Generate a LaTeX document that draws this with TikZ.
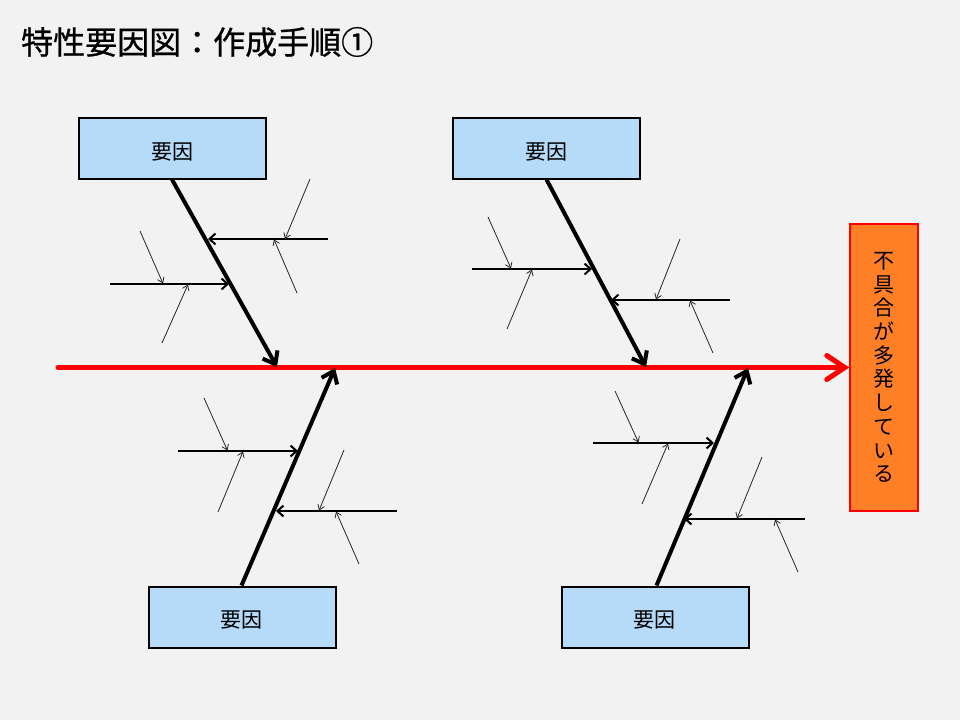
\documentclass[tikz,border=0pt]{standalone}
\usepackage{fontspec}
\setmainfont{Noto Sans CJK JP}
\newfontfamily\titlefont[FakeBold=0.8]{Noto Sans CJK JP}
\usetikzlibrary{arrows.meta}
\definecolor{bgc}{RGB}{242,242,242}
\definecolor{boxblue}{RGB}{181,219,249}
\definecolor{effectorange}{RGB}{255,127,39}
\tikzset{
  causebox/.style={draw=black, line width=2pt, fill=boxblue, minimum width=187pt, minimum height=61pt, inner sep=0pt},
  causetext/.style={inner sep=0pt, font=\fontsize{21}{24}\selectfont},
  effectbox/.style={draw=red, line width=1.5pt, fill=effectorange, minimum width=68pt, minimum height=287pt, inner sep=0pt, align=center, font=\fontsize{21}{23.7}\selectfont},
  spine/.style={draw=red, line width=5pt, line cap=round, -{Straight Barb[length=18pt,width=24pt,line cap=round]}},
  bigbone/.style={draw=black, line width=4pt, -{Straight Barb[length=11pt,width=17pt]}},
  midbone/.style={draw=black, line width=2pt, -{Straight Barb[length=6pt,width=11pt]}},
  smallbone/.style={draw=black!85, line width=0.8pt, -{Straight Barb[length=5pt,width=7pt]}},
}
\begin{document}
\begin{tikzpicture}[x=1pt,y=-1pt]
\fill[bgc] (0,0) rectangle (960,720);
\useasboundingbox (0,0) rectangle (960,720);

\node[anchor=west, inner sep=0pt, font=\fontsize{32}{36}\selectfont\titlefont] (title) at (21,42) {特性要因図：作成手順①};

% boxes
\node[causebox] (c1) at (172,148) {};
\node[causebox] (c2) at (546.5,148) {};
\node[causebox] (c3) at (242,617) {};
\node[causebox] (c4) at (655,617) {};
\node[causetext] (c1t) at (172,151.5) {要因};
\node[causetext] (c2t) at (546.5,151.5) {要因};
\node[causetext] (c3t) at (241,619.5) {要因};
\node[causetext] (c4t) at (654,619.5) {要因};
\node[effectbox] (eff) at (884,367.5) {不\\具\\合\\が\\多\\発\\し\\て\\い\\る};

% spine
\coordinate (s0) at (58,367.5);
\draw[spine] (s0) -- (s0 -| eff.west);

% big bones
\coordinate (b1) at (277,367);
\coordinate (b2) at (646,367);
\coordinate (b3) at (335,368);
\coordinate (b4) at (748,368);
\draw[bigbone] (c1.south) -- (b1);
\draw[bigbone] (c2.south) -- (b2);
\draw[bigbone] ([xshift=-0.5pt]c3.north) -- (b3);
\draw[bigbone] ([xshift=1.5pt]c4.north) -- (b4);

% mid bones: top-left
\coordinate (m1a) at (328,239); \coordinate (m1b) at (208,239);
\coordinate (m2a) at (110,284); \coordinate (m2b) at (229,284);
\draw[midbone] (m1a) -- (m1b);
\draw[midbone] (m2a) -- (m2b);
\coordinate (t1a) at (310,179); \coordinate (t1b) at (285,239);
\coordinate (t2a) at (297,293); \coordinate (t2b) at (274,239.5);
\coordinate (t3a) at (140,231); \coordinate (t3b) at (163,283.5);
\coordinate (t4a) at (162,343); \coordinate (t4b) at (188,284.5);
\draw[smallbone] (t1a) -- (t1b);
\draw[smallbone] (t2a) -- (t2b);
\draw[smallbone] (t3a) -- (t3b);
\draw[smallbone] (t4a) -- (t4b);

% mid bones: top-right
\coordinate (m3a) at (472,269); \coordinate (m3b) at (592,269);
\coordinate (m4a) at (730,300); \coordinate (m4b) at (611,300);
\draw[midbone] (m3a) -- (m3b);
\draw[midbone] (m4a) -- (m4b);
\coordinate (t5a) at (488,217); \coordinate (t5b) at (511,268.5);
\coordinate (t6a) at (507,329); \coordinate (t6b) at (532,269.5);
\coordinate (t7a) at (680,239); \coordinate (t7b) at (656,299.5);
\coordinate (t8a) at (713,353); \coordinate (t8b) at (690,300.5);
\draw[smallbone] (t5a) -- (t5b);
\draw[smallbone] (t6a) -- (t6b);
\draw[smallbone] (t7a) -- (t7b);
\draw[smallbone] (t8a) -- (t8b);

% mid bones: bottom-left
\coordinate (m5a) at (178,451); \coordinate (m5b) at (298,451);
\coordinate (m6a) at (397,511); \coordinate (m6b) at (276,511);
\draw[midbone] (m5a) -- (m5b);
\draw[midbone] (m6a) -- (m6b);
\coordinate (t9a) at (204,398); \coordinate (t9b) at (227.5,450.5);
\coordinate (t10a) at (218,512); \coordinate (t10b) at (243,451.5);
\coordinate (t11a) at (344,450); \coordinate (t11b) at (319,510.5);
\coordinate (t12a) at (359,564); \coordinate (t12b) at (336,511.5);
\draw[smallbone] (t9a) -- (t9b);
\draw[smallbone] (t10a) -- (t10b);
\draw[smallbone] (t11a) -- (t11b);
\draw[smallbone] (t12a) -- (t12b);

% mid bones: bottom-right
\coordinate (m7a) at (593,443); \coordinate (m7b) at (714,443);
\coordinate (m8a) at (805,519); \coordinate (m8b) at (684,519);
\draw[midbone] (m7a) -- (m7b);
\draw[midbone] (m8a) -- (m8b);
\coordinate (t13a) at (615,391); \coordinate (t13b) at (638.5,442.5);
\coordinate (t14a) at (642,504); \coordinate (t14b) at (668,443.5);
\coordinate (t15a) at (762,457); \coordinate (t15b) at (737,518.5);
\coordinate (t16a) at (798,572); \coordinate (t16b) at (775,519.5);
\draw[smallbone] (t13a) -- (t13b);
\draw[smallbone] (t14a) -- (t14b);
\draw[smallbone] (t15a) -- (t15b);
\draw[smallbone] (t16a) -- (t16b);
\end{tikzpicture}
\end{document}
